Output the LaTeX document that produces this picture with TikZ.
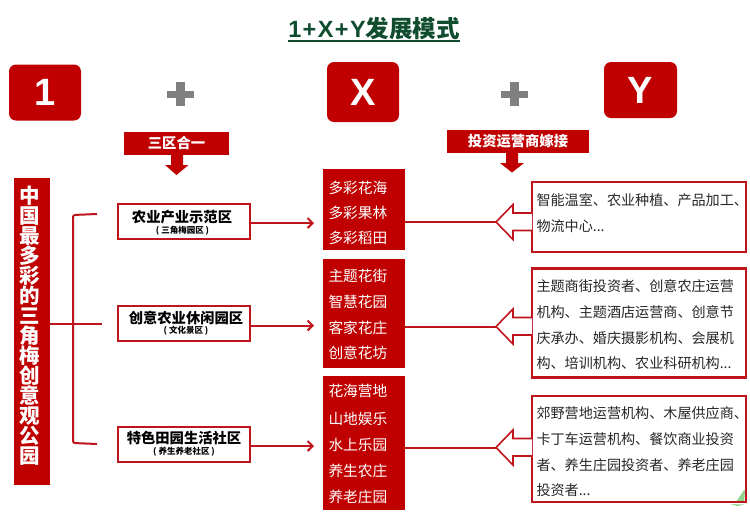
\documentclass[tikz,border=0pt]{standalone}
\usepackage{fontspec}
\setmainfont{Noto Sans CJK SC}
\newfontfamily\latinfont{Liberation Sans}
\usepackage{xcolor}
\usetikzlibrary{arrows.meta,positioning,calc}
\definecolor{brandred}{HTML}{C00000}
\definecolor{linered}{HTML}{C0141C}
\definecolor{titlegreen}{HTML}{0F4D2E}
\definecolor{leafgreen}{HTML}{8FD48F}
\begin{document}
\begin{tikzpicture}[
  x=1pt,y=-1pt,
  every node/.style={inner sep=0pt,outer sep=0pt},
  badge/.style={rectangle,fill=brandred,rounded corners=7pt,text=white,font=\latinfont\fontsize{38}{38}\selectfont\bfseries},
  plusbar/.style={draw=gray},
  banner/.style={rectangle,fill=brandred,text=white,font=\fontsize{14.3}{15}\selectfont\bfseries},
  spine/.style={rectangle,fill=brandred},
  spinetxt/.style={text=white,align=center,font=\fontsize{20.5}{20}\selectfont\bfseries},
  zone/.style={rectangle,draw=linered,line width=2pt,fill=white,minimum width=132pt,minimum height=35pt},
  ztitle/.style={font=\fontsize{14.3}{15}\selectfont\bfseries},
  sub/.style={font=\fontsize{8.5}{9}\selectfont\bfseries},
  block/.style={rectangle,fill=brandred,anchor=north west,minimum width=82pt},
  item/.style={anchor=west,text=white,font=\fontsize{14.7}{16}\selectfont},
  party/.style={rectangle,draw=linered,line width=2.2pt,anchor=north west,minimum width=214pt},
  partytxt/.style={anchor=west,text=black!85,font=\fontsize{14.1}{15}\selectfont},
  ar/.style={-{Straight Barb[length=5pt,width=10pt]},draw=linered,line width=2pt},
  ln/.style={draw=linered,line width=2pt},
  hollow/.pic={\draw[draw=linered,line width=1.6pt,fill=white]
    (36,-9) -- (17,-9) -- (17,-17.5) -- (0,0) -- (17,17.5) -- (17,8.5) -- (36,8.5);}
]
\useasboundingbox (0,0) rectangle (750,512);

% title
\node (title) at (374,29) {\color{titlegreen}\fontsize{23.5}{24}\selectfont\bfseries{\latinfont\addfontfeature{LetterSpace=6}1+X+Y}发展模式};
\draw[titlegreen,line width=2pt] (288,40.5) -- (460,40.5);

% top row
\node[badge,minimum width=72pt,minimum height=56pt] (one) at (45,92.5) {1};
\node[badge,minimum width=72pt,minimum height=60pt] (X)   at (363,92) {X};
\node[badge,minimum width=73pt,minimum height=56pt] (Y)   at (640.5,90) {Y};
\draw[plusbar,line width=7pt] (166.5,94) -- (193.5,94);
\draw[plusbar,line width=9pt] (180,82) -- (180,106);
\draw[plusbar,line width=7pt] (500.5,94) -- (527.5,94);
\draw[plusbar,line width=9pt] (514,82) -- (514,106);

% banners
\node[banner,minimum width=105pt,minimum height=23pt] (tri) at (176.5,143.5) {三区合一};
\node[banner,minimum width=142pt,minimum height=23pt] (inv) at (518,141.5) {投资运营商嫁接};
\fill[brandred] (171,155) -- (183,155) -- (183,165) -- (188.5,165) -- (176.5,175) -- (165,165) -- (171,165) -- cycle;
\fill[brandred] (506,153) -- (518,153) -- (518,163) -- (524,163) -- (512,172.5) -- (500,163) -- (506,163) -- cycle;

% left column
\node[spine,minimum width=36pt,minimum height=307pt] (park) at (32,331.5) {};
\node[spinetxt] (parktxt) at (29.5,326)
  {中\\国\\最\\多\\彩\\的\\三\\角\\梅\\创\\意\\观\\公\\园};

% zones
\node[zone] (z1) at (183.5,221) {};
\node[zone] (z2) at (183.5,323) {};
\node[zone] (z3) at (183.5,444) {};
\node[ztitle] (z1t) at (182,217) {农业产业示范区};
\node[sub] (z1s) at (182.5,231) {( 三角梅园区 )};
\node[ztitle] (z2t) at (186,317.5) {创意农业休闲园区};
\node[sub] (z2s) at (186,331) {( 文化景区 )};
\node[ztitle] (z3t) at (184,438) {特色田园生活社区};
\node[sub] (z3s) at (184,451.5) {( 养生养老社区 )};

% bracket
\coordinate (hub) at (73,324);
\coordinate (b1) at (97,214);
\coordinate (b2) at (102,324);
\coordinate (b3) at (97,444);
\draw[ln] (park.east|-hub) -- (b2);
\draw[ln,rounded corners=2pt] (b1) -- (73,215) -- (73,443) -- (b3);

% X blocks
\node[block,minimum height=81pt] (x1) at (323,169) {};
\node[block,minimum height=109pt] (x2) at (323,259) {};
\node[block,minimum height=134pt] (x3) at (323,376) {};
\node[item] (x11) at (328.5,187.5) {多彩花海};
\node[item] (x12) at (328.5,212.5) {多彩果林};
\node[item] (x13) at (328.5,237.5) {多彩稻田};
\node[item] (x21) at (328.5,275.5) {主题花街};
\node[item] (x22) at (328.5,301.5) {智慧花园};
\node[item] (x23) at (328.5,327.5) {客家花庄};
\node[item] (x24) at (328.5,352.5) {创意花坊};
\node[item] (x31) at (328.5,390.5) {花海营地};
\node[item] (x32) at (328.5,418.5) {山地娱乐};
\node[item] (x33) at (328.5,444.5) {水上乐园};
\node[item] (x34) at (328.5,470.5) {养生农庄};
\node[item] (x35) at (328.5,496.5) {养老庄园};

% zone to block
\coordinate (a1) at (314,223);
\coordinate (a2) at (314,325.5);
\coordinate (a3) at (314,446);
\draw[ar] (z1.east|-a1) -- (a1);
\draw[ar] (z2.east|-a2) -- (a2);
\draw[ar] (z3.east|-a3) -- (a3);

% leaf scrap in the corner
\fill[leafgreen] (736,502) -- (744,490) -- (745,491) -- (744,503) -- cycle;
\fill[leafgreen] (730,504) -- (744,504.5) -- (738,506) -- cycle;

% Y boxes
\node[party,minimum height=70pt] (y1) at (532,182) {};
\node[party,minimum height=109pt] (y2) at (532,268.5) {};
\node[party,minimum height=106pt] (y3) at (532,396) {};
\node[partytxt] (y11) at (536.5,200.5) {智能温室、农业种植、产品加工、};
\node[partytxt] (y12) at (536.5,226.5) {物流中心...};
\node[partytxt] (y21) at (536.5,286.5) {主题商街投资者、创意农庄运营};
\node[partytxt] (y22) at (536.5,312.5) {机构、主题酒店运营商、创意节};
\node[partytxt] (y23) at (536.5,338.5) {庆承办、婚庆摄影机构、会展机};
\node[partytxt] (y24) at (536.5,363.5) {构、培训机构、农业科研机构...};
\node[partytxt] (y31) at (536.5,413.5) {郊野营地运营机构、木屋供应商、};
\node[partytxt] (y32) at (536.5,439.5) {卡丁车运营机构、餐饮商业投资};
\node[partytxt] (y33) at (536.5,465.5) {者、养生庄园投资者、养老庄园};
\node[partytxt] (y34) at (536.5,490.5) {投资者...};

% hollow arrows
\coordinate (h1) at (496,222);
\coordinate (h2) at (496,326.5);
\coordinate (h3) at (496,447.5);
\draw[ln] (x1.east|-h1) -- (h1);
\draw[ln] (x2.east|-h2) -- (h2);
\draw[ln] (x3.east|-h3) -- (h3);
\pic at (h1) {hollow};
\pic at (h2) {hollow};
\pic at (h3) {hollow};
\end{tikzpicture}
\end{document}
